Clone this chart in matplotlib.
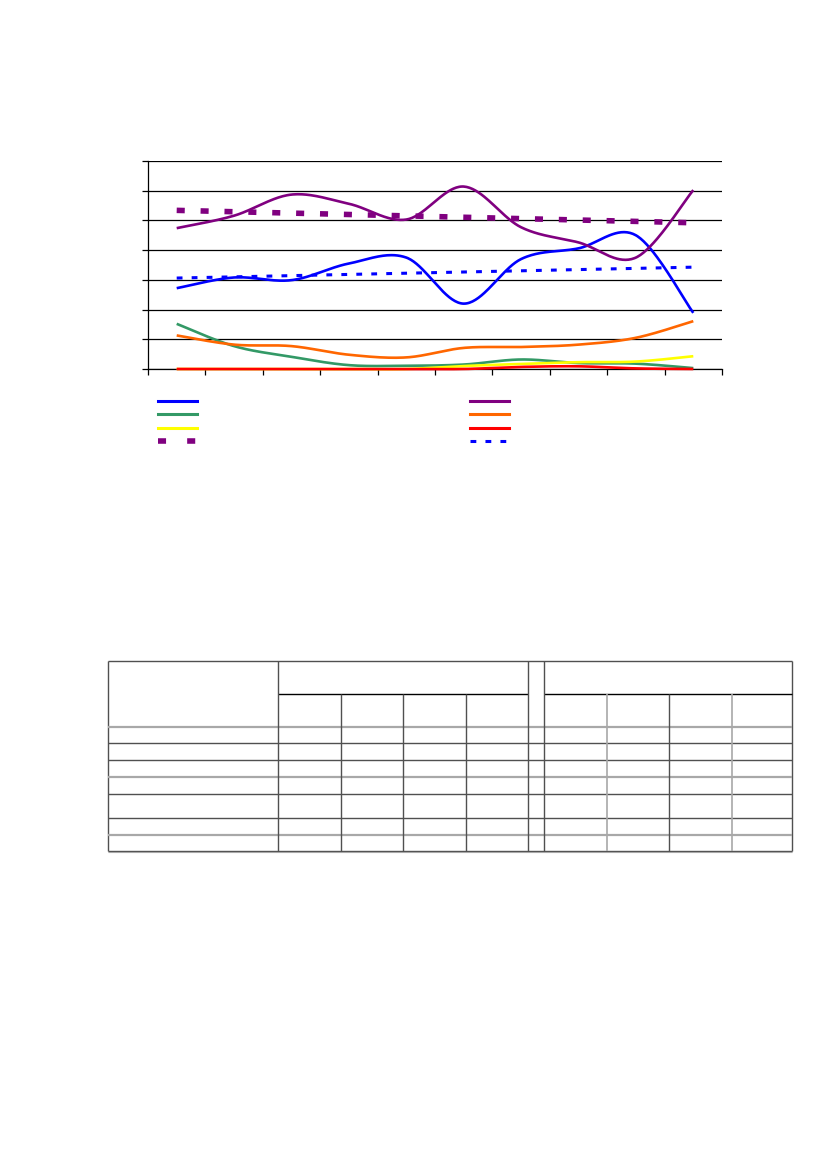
import numpy as np
import matplotlib
matplotlib.use("Agg")
import matplotlib.pyplot as plt

# ---- data (no text is visible in the reference) ----
categories = list(range(10))
blue_vals = [2.72, 3.08, 2.99, 3.55, 3.75, 2.20, 3.70, 4.06, 4.50, 1.89]
purple_vals = [4.74, 5.16, 5.87, 5.56, 5.03, 6.14, 4.77, 4.26, 3.75, 6.02]
green_vals = [1.52, 0.77, 0.41, 0.13, 0.11, 0.15, 0.32, 0.20, 0.18, 0.03]
orange_vals = [1.13, 0.82, 0.77, 0.48, 0.39, 0.71, 0.74, 0.82, 1.05, 1.61]
yellow_vals = [0.0, 0.0, 0.0, 0.0, 0.0, 0.10, 0.17, 0.23, 0.25, 0.43]
red_vals = [0.0, 0.0, 0.0, 0.0, 0.0, 0.0, 0.07, 0.09, 0.02, 0.0]
y_ticks = list(range(8))


def smooth(xs, ys, n=40):
    P = np.column_stack([xs, ys]).astype(float)
    m = len(P)
    out = []
    for i in range(m - 1):
        p0 = P[i - 1] if i > 0 else P[i]
        p1 = P[i]
        p2 = P[i + 1]
        p3 = P[i + 2] if i + 2 < m else P[i + 1]
        c1 = p1 + (p2 - p0) / 6.0
        c2 = p2 - (p3 - p1) / 6.0
        t = np.linspace(0, 1, n)[:, None]
        seg = ((1 - t) ** 3) * p1 + 3 * ((1 - t) ** 2) * t * c1 + 3 * (1 - t) * t ** 2 * c2 + t ** 3 * p2
        out.append(seg if i == 0 else seg[1:])
    s = np.vstack(out)
    return s[:, 0], s[:, 1]


W, H = 826, 1169
fig = plt.figure(figsize=(W / 100, H / 100), dpi=100)

L, R, T, B = 148, 722, 161, 369
ax = fig.add_axes([L / W, 1 - B / H, (R - L) / W, (B - T) / H])
ax.set_xlim(-0.5, 9.5)
ax.set_ylim(0, 7)
ax.set_yticks(y_ticks)
ax.set_xticks(np.arange(-0.5, 10, 1.0))
ax.set_xticklabels([])
ax.set_yticklabels([])
ax.tick_params(axis='both', direction='out', length=4, width=0.9, color='black')
ax.grid(axis='y', color='black', linewidth=0.9)
ax.set_axisbelow(True)
for s in ['top', 'right']:
    ax.spines[s].set_visible(False)
for s in ['left', 'bottom']:
    ax.spines[s].set_color('black')
    ax.spines[s].set_linewidth(0.9)

x = np.array(categories, dtype=float)
lw = 1.9
series = [
    (blue_vals, '#0000ff'),
    (purple_vals, '#800080'),
    (green_vals, '#339966'),
    (orange_vals, '#ff6600'),
    (yellow_vals, '#ffff00'),
    (red_vals, '#ff0000'),
]
for vals, c in series:
    sx, sy = smooth(x, vals)
    ax.plot(sx, sy, color=c, linewidth=lw, solid_capstyle='butt', clip_on=False, zorder=3)

# linear trend lines
pc = np.polyfit(x, purple_vals, 1)
bc = np.polyfit(x, blue_vals, 1)
ax.plot(x, np.polyval(pc, x), color='#800080', linewidth=4.0, linestyle=(0, (1.45, 2.85)),
        dash_capstyle='butt', zorder=2)
ax.plot(x, np.polyval(bc, x), color='#0000ff', linewidth=2.2, linestyle=(0, (1.9, 3.0)),
        dash_capstyle='butt', zorder=2)

# ---- overlay in pixel coordinates for legend samples and table ----
ov = fig.add_axes([0, 0, 1, 1])
ov.set_xlim(0, W)
ov.set_ylim(H, 0)
ov.axis('off')

# legend samples
leg_rows = [401, 414, 428, 441]
left_items = [('#0000ff', '-', 2.2), ('#339966', '-', 2.2), ('#ffff00', '-', 2.2), ('#800080', (0, (1.45, 3.8)), 4.0)]
right_items = [('#800080', '-', 2.2), ('#ff6600', '-', 2.2), ('#ff0000', '-', 2.2), ('#0000ff', (0, (1.9, 3.0)), 2.2)]
for (c, ls, w), yy in zip(left_items, leg_rows):
    ov.plot([158, 197], [yy, yy], color=c, linestyle=ls, linewidth=w, dash_capstyle='butt')
for (c, ls, w), yy in zip(right_items, leg_rows):
    ov.plot([470, 509], [yy, yy], color=c, linestyle=ls, linewidth=w, dash_capstyle='butt')

# table
dark = '#505050'
light = '#a8a8a8'
tl, tr, tt, tb = 108, 792, 661, 851
row_y = [727, 743, 760, 777, 794, 818, 835]
row_col = [light, dark, dark, light, dark, dark, light]

def hl(y, x0, x1, c, w=1.0):
    ov.plot([x0, x1], [y, y], color=c, linewidth=w, solid_capstyle='butt')

def vl(xx, y0, y1, c, w=1.0):
    ov.plot([xx, xx], [y0, y1], color=c, linewidth=w, solid_capstyle='butt')

hl(tt, tl, tr, dark, 1.0)
hl(tb, tl, tr, dark, 1.0)
hl(tb + 1, tl, tr, light, 0.8)
vl(tl, tt, tb, dark, 1.0)
vl(tr, tt, tb, dark, 1.0)
hl(694, 278, 528, 'black', 1.0)
hl(694, 544, 792, 'black', 1.0)
for yy, c in zip(row_y, row_col):
    hl(yy, tl, tr, c, 1.6 if c == light else 1.0)
vl(278, tt, tb, dark)
vl(528, tt, tb, dark)
vl(544, tt, tb, dark)
for xx in [341, 403, 466]:
    vl(xx, 694, tb, dark)
for xx in [607, 732]:
    vl(xx, 694, tb, light, 1.2)
vl(669, 694, tb, dark)

fig.savefig('out.png', dpi=100)
